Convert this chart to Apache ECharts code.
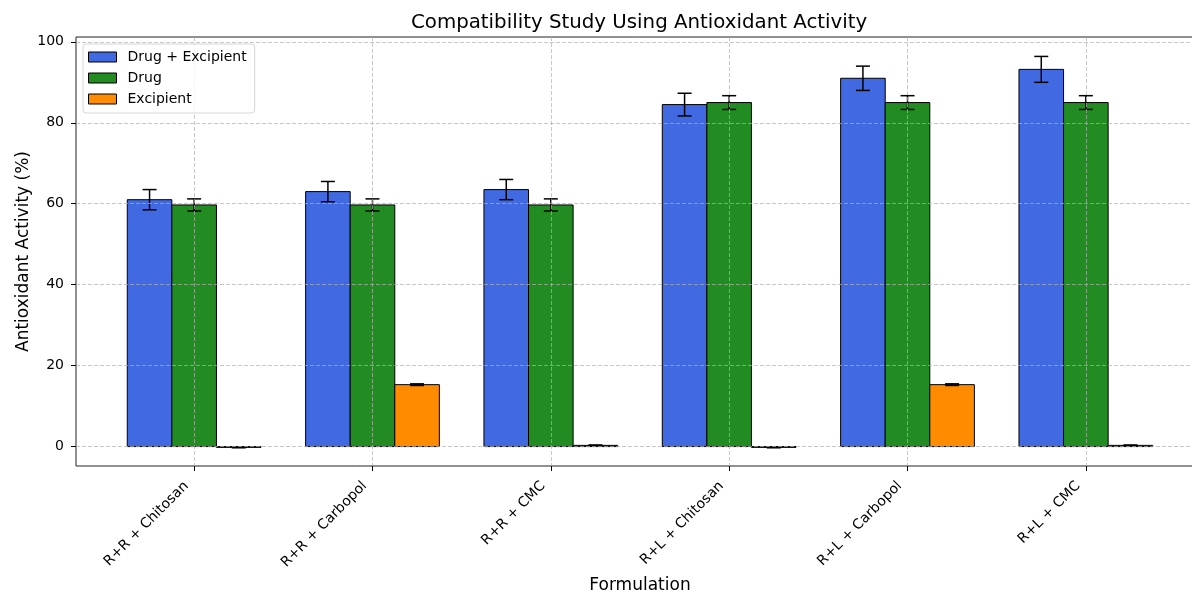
<!DOCTYPE html>
<html>
<head>
<meta charset="utf-8">
<script src="https://cdn.jsdelivr.net/npm/echarts@6/dist/echarts.min.js"></script>
<style>html,body{margin:0;padding:0;background:#fff;overflow:hidden}#c{width:1192px;height:591px}</style>
</head>
<body>
<div id="c"></div>
<script>
const categories = ['R+R + Chitosan', 'R+R + Carbopol', 'R+R + CMC', 'R+L + Chitosan', 'R+L + Carbopol', 'R+L + CMC'];
const drugExcipient = [61.0, 63.0, 63.5, 84.5, 91.0, 93.2];
const drugExcipientErr = [2.5, 2.5, 2.5, 2.8, 3.0, 3.2];
const drug = [59.7, 59.7, 59.7, 85.0, 85.0, 85.0];
const drugErr = [1.5, 1.5, 1.5, 1.7, 1.7, 1.7];
const excipient = [-0.2, 15.3, 0.3, -0.2, 15.3, 0.3];
const excipientErr = [0.1, 0.2, 0.1, 0.1, 0.2, 0.1];
const yTicks = [0, 20, 40, 60, 80, 100];
const xTicks = [0, 1, 2, 3, 4, 5];

const FONT = 'DejaVu Sans';
const chart = echarts.init(document.getElementById('c'), null, {renderer: 'canvas'});

function makeSeries(name, vals, errs, color, offset) {
  const bw = 0.25;
  return {
    name: name,
    type: 'custom',
    itemStyle: {color: color, borderColor: '#000', borderWidth: 1},
    data: vals.map((v, i) => [i, v, errs[i]]),
    z: 2,
    renderItem: function (params, api) {
      const x = api.value(0) + offset;
      const v = api.value(1);
      const e = api.value(2);
      const p0 = api.coord([x - bw / 2, v]);
      const p1 = api.coord([x + bw / 2, 0]);
      const top = api.coord([x, v + e]);
      const bot = api.coord([x, v - e]);
      const cap = 7;
      return {
        type: 'group',
        children: [
          {type: 'rect', shape: {x: p0[0], y: Math.min(p0[1], p1[1]), width: p1[0] - p0[0], height: Math.abs(p1[1] - p0[1])},
           style: {fill: color, stroke: '#000', lineWidth: 1}},
          {type: 'line', shape: {x1: top[0], y1: top[1], x2: bot[0], y2: bot[1]}, style: {stroke: '#000', lineWidth: 1.5}, z2: 5},
          {type: 'line', shape: {x1: top[0] - cap, y1: top[1], x2: top[0] + cap, y2: top[1]}, style: {stroke: '#000', lineWidth: 1.5}, z2: 5},
          {type: 'line', shape: {x1: bot[0] - cap, y1: bot[1], x2: bot[0] + cap, y2: bot[1]}, style: {stroke: '#000', lineWidth: 1.5}, z2: 5}
        ]
      };
    }
  };
}

const gridColor = 'rgba(176,176,176,0.7)';
const option = {
  animation: false,
  backgroundColor: '#fff',
  title: {
    text: 'Compatibility Study Using Antioxidant Activity',
    left: 406, top: 8,
    textStyle: {fontFamily: FONT, fontSize: 19.8, fontWeight: 'normal', color: '#000'}
  },
  legend: {
    orient: 'vertical', left: 83, top: 44,
    padding: [6, 8, 7, 5],
    itemWidth: 28, itemHeight: 10, itemGap: 7,
    backgroundColor: 'rgba(255,255,255,0.8)', borderColor: '#d6d6d6', borderWidth: 1, borderRadius: 3,
    icon: 'rect',
    textStyle: {fontFamily: FONT, fontSize: 14, color: '#000', padding: [0, 0, 0, 6]},
    data: [
      {name: 'Drug + Excipient', itemStyle: {color: '#4169E1', borderColor: '#000', borderWidth: 1}},
      {name: 'Drug', itemStyle: {color: '#228B22', borderColor: '#000', borderWidth: 1}},
      {name: 'Excipient', itemStyle: {color: '#FF8C00', borderColor: '#000', borderWidth: 1}}
    ]
  },
  grid: {left: 76, top: 37, width: 1128, height: 429, outerBoundsMode: 'none', containLabel: false,
    show: true, borderColor: '#222', borderWidth: 1, backgroundColor: 'transparent'},
  xAxis: {
    type: 'value', min: -0.6625, max: 5.6625, z: 3,
    name: 'Formulation', nameLocation: 'middle', nameGap: 104,
    nameTextStyle: {fontFamily: FONT, fontSize: 17, color: '#000'},
    axisLine: {show: false, onZero: false},
    axisTick: {show: true, length: 5, lineStyle: {color: '#000'}, customValues: xTicks},
    axisLabel: {customValues: xTicks, rotate: 45, margin: 20, verticalAlign: 'bottom', padding: [0, 4, 0, 0],
      fontFamily: FONT, fontSize: 14, color: '#000',
      formatter: v => categories[Math.round(v)]},
    splitLine: {show: true, lineStyle: {color: gridColor, type: [4, 2], width: 1}}
  },
  yAxis: {
    type: 'value', min: -4.8, max: 101.2, z: 3,
    name: 'Antioxidant Activity (%)', nameLocation: 'middle', nameGap: 44, nameMoveOverlap: false,
    nameTextStyle: {fontFamily: FONT, fontSize: 17, color: '#000'},
    axisLine: {show: false, onZero: false},
    axisTick: {show: true, length: 5, lineStyle: {color: '#000'}, customValues: yTicks},
    axisLabel: {customValues: yTicks, margin: 12, fontFamily: FONT, fontSize: 14, color: '#000'},
    splitLine: {show: true, lineStyle: {color: gridColor, type: [4, 2], width: 1}}
  },
  series: [
    makeSeries('Drug + Excipient', drugExcipient, drugExcipientErr, '#4169E1', -0.25),
    makeSeries('Drug', drug, drugErr, '#228B22', 0),
    makeSeries('Excipient', excipient, excipientErr, '#FF8C00', 0.25)
  ]
};
chart.setOption(option);
</script>
</body>
</html>
